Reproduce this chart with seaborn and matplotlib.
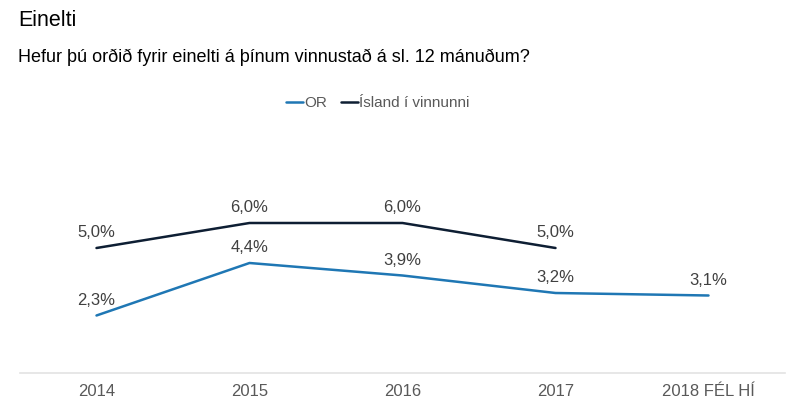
import numpy as np
import pandas as pd
import matplotlib
matplotlib.use("Agg")
import matplotlib.pyplot as plt
import seaborn as sns
from matplotlib.lines import Line2D

categories = ["2014", "2015", "2016", "2017", "2018 FÉL HÍ"]
or_values = [2.3, 4.4, 3.9, 3.2, 3.1]
island_values = [5.0, 6.0, 6.0, 5.0, np.nan]
series_names = ["OR", "Ísland í vinnunni"]
series_colors = ["#1F77B4", "#0E1E33"]

sns.set_theme(style="white")
plt.rcParams["font.family"] = ["Liberation Sans", "DejaVu Sans"]

df = pd.DataFrame({
    "cat": categories * 2,
    "val": or_values + island_values,
    "series": [series_names[0]] * 5 + [series_names[1]] * 5,
})
df["x"] = df["cat"].map({c: i for i, c in enumerate(categories)})

W, H = 800, 413
fig = plt.figure(figsize=(8, 4.13), dpi=100)
ax = fig.add_axes([20 / W, (H - 373) / H, 765 / W, 200 / H])

sns.lineplot(data=df, x="x", y="val", hue="series", palette=series_colors,
             hue_order=series_names, ax=ax, linewidth=1.8, legend=False,
             sort=False)

ax.set_xlim(-0.5, len(categories) - 0.5)
ax.set_ylim(0, 8)
ax.set_xticks(range(len(categories)))
ax.set_xticklabels(categories, fontsize=12, color="#595959")
ax.tick_params(axis="x", length=0, pad=8)
ax.set_yticks([])
ax.set_xlabel("")
ax.set_ylabel("")
for s in ["top", "right", "left"]:
    ax.spines[s].set_visible(False)
ax.spines["bottom"].set_color("#E3E3E3")
ax.spines["bottom"].set_linewidth(1.2)

for vals in [or_values, island_values]:
    for i, v in enumerate(vals):
        if np.isnan(v):
            continue
        ax.annotate(f"{v:.1f}%".replace(".", ","), (i, v), xytext=(0, 5.5),
                    textcoords="offset points", ha="center", va="bottom",
                    fontsize=12, color="#404040")

fig.text(18 / W, 1 - 21 / H, "Einelti", fontsize=15.5, color="#000000",
         va="center", ha="left")
fig.text(18 / W, 1 - 57 / H, "Hefur þú orðið fyrir einelti á þínum vinnustað á sl. 12 mánuðum?",
         fontsize=13, color="#000000", va="center", ha="left")

handles = [Line2D([0], [0], color=c, lw=1.8) for c in series_colors]
leg = fig.legend(handles, series_names, loc="center left",
                 bbox_to_anchor=(286 / W, 1 - 103 / H), ncol=2, frameon=False,
                 fontsize=11, handlelength=1.1, handletextpad=0.1,
                 columnspacing=0.9, borderaxespad=0, borderpad=0)
for t in leg.get_texts():
    t.set_color("#595959")

fig.savefig("out.png", dpi=100)
